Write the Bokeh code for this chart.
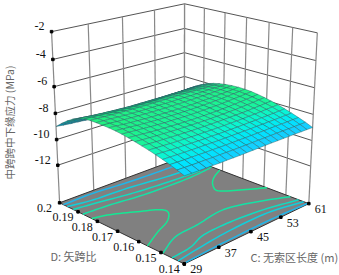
import numpy as np
from bokeh.plotting import figure
from bokeh.models import Range1d
from bokeh.core.properties import value
from bokeh.embed import file_html
from bokeh.resources import INLINE

c_ticks = [29, 37, 45, 53, 61]
d_ticks = [0.14, 0.15, 0.16, 0.17, 0.18, 0.19, 0.2]
d_labels = ["0.14", "0.15", "0.16", "0.17", "0.18", "0.19", "0.2"]
z_ticks = [-2, -4, -6, -8, -10, -12]
z_floor = -15
y_title = "中跨跨中下缘应力 (MPa)"
c_title = "C: 无索区长度 (m)"
d_title = "D: 矢跨比"

# rows: D from 0.20 down to 0.14; columns: C from 29 to 61
z_grid = [
[-9.00,-9.06,-9.11,-9.15,-9.19,-9.23,-9.25,-9.27,-9.29,-9.30,-9.30,-9.30,-9.30,-9.29,-9.28,-9.28,-9.26,-9.25,-9.24,-9.22,-9.20],
[-8.60,-8.68,-8.75,-8.81,-8.87,-8.92,-8.95,-8.98,-9.00,-9.02,-9.02,-9.02,-9.01,-9.00,-8.99,-8.98,-8.96,-8.94,-8.91,-8.88,-8.85],
[-8.25,-8.33,-8.40,-8.47,-8.52,-8.56,-8.61,-8.63,-8.65,-8.66,-8.67,-8.67,-8.66,-8.66,-8.65,-8.63,-8.62,-8.60,-8.57,-8.55,-8.52],
[-7.95,-8.02,-8.08,-8.13,-8.18,-8.22,-8.25,-8.28,-8.30,-8.30,-8.31,-8.31,-8.31,-8.30,-8.30,-8.29,-8.29,-8.28,-8.27,-8.26,-8.25],
[-7.72,-7.77,-7.82,-7.86,-7.89,-7.92,-7.94,-7.97,-7.98,-7.98,-7.99,-7.99,-8.00,-8.00,-7.99,-8.00,-8.00,-8.01,-8.01,-8.01,-8.02],
[-7.60,-7.63,-7.67,-7.70,-7.73,-7.75,-7.77,-7.78,-7.79,-7.79,-7.80,-7.80,-7.80,-7.80,-7.81,-7.81,-7.82,-7.83,-7.84,-7.84,-7.86],
[-7.54,-7.56,-7.59,-7.61,-7.63,-7.64,-7.66,-7.67,-7.68,-7.67,-7.68,-7.68,-7.68,-7.68,-7.69,-7.69,-7.70,-7.71,-7.72,-7.72,-7.74],
[-7.53,-7.56,-7.58,-7.61,-7.64,-7.65,-7.67,-7.68,-7.68,-7.68,-7.69,-7.69,-7.68,-7.69,-7.69,-7.69,-7.68,-7.67,-7.67,-7.66,-7.66],
[-7.54,-7.57,-7.61,-7.63,-7.66,-7.68,-7.70,-7.71,-7.72,-7.73,-7.73,-7.73,-7.73,-7.72,-7.71,-7.70,-7.69,-7.67,-7.65,-7.63,-7.61],
[-7.56,-7.60,-7.65,-7.68,-7.71,-7.74,-7.76,-7.77,-7.79,-7.80,-7.80,-7.80,-7.80,-7.78,-7.76,-7.75,-7.72,-7.69,-7.67,-7.63,-7.59],
[-7.60,-7.64,-7.68,-7.72,-7.75,-7.77,-7.80,-7.81,-7.82,-7.83,-7.83,-7.83,-7.82,-7.81,-7.80,-7.77,-7.75,-7.72,-7.68,-7.64,-7.60],
[-7.66,-7.70,-7.74,-7.77,-7.81,-7.83,-7.86,-7.86,-7.88,-7.89,-7.89,-7.89,-7.88,-7.86,-7.85,-7.83,-7.80,-7.76,-7.73,-7.69,-7.64],
[-7.74,-7.78,-7.82,-7.86,-7.89,-7.91,-7.93,-7.95,-7.96,-7.97,-7.97,-7.97,-7.96,-7.95,-7.93,-7.91,-7.88,-7.84,-7.80,-7.76,-7.71],
[-7.84,-7.88,-7.91,-7.94,-7.96,-7.98,-8.00,-8.01,-8.02,-8.03,-8.03,-8.03,-8.02,-8.01,-7.99,-7.98,-7.95,-7.92,-7.89,-7.85,-7.81],
[-7.95,-7.98,-8.01,-8.03,-8.05,-8.07,-8.08,-8.10,-8.10,-8.11,-8.11,-8.11,-8.10,-8.09,-8.08,-8.07,-8.05,-8.02,-8.00,-7.96,-7.93],
[-8.06,-8.09,-8.11,-8.14,-8.16,-8.17,-8.19,-8.20,-8.20,-8.21,-8.21,-8.21,-8.20,-8.20,-8.19,-8.17,-8.16,-8.14,-8.11,-8.09,-8.06],
[-8.19,-8.21,-8.24,-8.26,-8.27,-8.29,-8.30,-8.31,-8.31,-8.32,-8.32,-8.32,-8.32,-8.31,-8.30,-8.30,-8.28,-8.27,-8.26,-8.24,-8.22],
[-8.33,-8.35,-8.37,-8.39,-8.40,-8.41,-8.42,-8.43,-8.44,-8.44,-8.44,-8.44,-8.44,-8.44,-8.43,-8.43,-8.42,-8.42,-8.41,-8.40,-8.39],
[-8.49,-8.51,-8.53,-8.54,-8.55,-8.57,-8.57,-8.58,-8.59,-8.59,-8.59,-8.59,-8.59,-8.59,-8.59,-8.58,-8.58,-8.58,-8.58,-8.57,-8.57],
[-8.66,-8.68,-8.70,-8.71,-8.72,-8.74,-8.74,-8.75,-8.76,-8.76,-8.76,-8.76,-8.76,-8.76,-8.76,-8.76,-8.76,-8.77,-8.77,-8.77,-8.77],
[-8.85,-8.87,-8.89,-8.90,-8.91,-8.93,-8.93,-8.94,-8.95,-8.95,-8.95,-8.95,-8.95,-8.95,-8.96,-8.96,-8.97,-8.97,-8.98,-8.99,-9.00],
]

# floor contours, read as (C, D)
contour_back1 = [(29,.1979),(36.2,.1981),(44,.1967),(53.1,.1960),(58,.1958)]
contour_back2 = [(29,.1958),(34.2,.1938),(42.2,.1929),(52.1,.1904),(58,.1900)]
contour_back3 = [(29,.1926),(34.6,.1909),(41.5,.1884),(50.9,.1866),(58,.1860)]
contour_back4 = [(29,.1875),(35,.1867),(42.2,.1848),(52.2,.1840),(58.6,.1848),(61,.1856)]
lobe_left = [(29,.1829),(32.3,.1809),(36.5,.1763),(40,.1720),(40.2,.1685),(37.5,.1639),(33.7,.1607),(29,.1560)]
lobe_right = [(61,.1814),(57.2,.1778),(54.6,.1736),(53.4,.1689),(56.6,.1640),(61,.1586)]
contour_front1 = [(29,.1492),(34.5,.1543),(40.4,.1554),(48.1,.1572),(55,.1533),(61,.1480)]
contour_front2 = [(29,.1452),(33.7,.1461),(38.4,.1490),(45.4,.1493),(53.2,.1477),(61,.1444)]
contour_front3 = [(29,.1426),(35.8,.1442),(43.1,.1453),(52.8,.1452),(61,.1422)]
contour_front4 = [(29,.1403),(36.2,.1409),(45,.1412),(53,.1411),(61,.1404)]

# camera: corners of the box (u along C, v along D, w along z) and where they land on the page
box = [(0,0,0),(1,0,0),(0,1,0),(1,1,0),(0,0,1),(1,0,1),(0,1,1),(1,1,1)]
page = [(184,263),(308,204),(59,203),(184,155),(184,68),(317,33),(51,32),(184,3)]
rows, rhs = [], []
for (a, b, c), (px, py) in zip(box, page):
    rows.append([a,b,c,1,0,0,0,0,-px*a,-px*b,-px*c]); rhs.append(px)
    rows.append([0,0,0,0,a,b,c,1,-py*a,-py*b,-py*c]); rhs.append(py)
m = np.linalg.lstsq(np.array(rows, float), np.array(rhs, float), rcond=None)[0]

def proj(C, D, Z):
    u = (np.asarray(C, float) - 29) / 32
    v = (np.asarray(D, float) - 0.14) / 0.06
    w = (np.asarray(Z, float) - z_floor) / (z_ticks[0] - z_floor)
    d = m[8]*u + m[9]*v + m[10]*w + 1
    return (m[0]*u+m[1]*v+m[2]*w+m[3]) / d, (m[4]*u+m[5]*v+m[6]*w+m[7]) / d

def rounded(xp, yp, n=8):
    # Catmull-Rom through the read points, for the pen stroke only
    P = np.column_stack([xp, yp])
    P = np.vstack([2*P[0]-P[1], P, 2*P[-1]-P[-2]])
    out = []
    for k in range(1, len(P)-2):
        for s in np.linspace(0, 1, n, endpoint=False):
            out.append(0.5*((2*P[k]) + (P[k+1]-P[k-1])*s + (2*P[k-1]-5*P[k]+4*P[k+1]-P[k+2])*s*s
                            + (3*P[k]-P[k-1]-3*P[k+1]+P[k+2])*s**3))
    out.append(P[-2])
    out = np.array(out)
    return out[:,0], out[:,1]

p = figure(width=339, height=275, x_range=Range1d(0, 339), y_range=Range1d(275, 0),
           x_axis_type=None, y_axis_type=None, toolbar_location=None, output_backend="svg",
           min_border=0, outline_line_color=None, background_fill_color="white",
           styles={"position": "absolute", "left": "0px", "top": "0px"})
p.grid.visible = False

cmin, cmax = c_ticks[0], c_ticks[-1]
dmin, dmax = d_ticks[0], d_ticks[-1]
ztop, zbot = z_ticks[0], z_floor

def seg(C, D, Z, color, width):
    x, y = proj(C, D, Z)
    p.line(x, y, line_color=color, line_width=width)

# walls
for z in z_ticks:
    seg([cmin, cmax], [dmax, dmax], [z, z], "#555555", 1)
    seg([cmax, cmax], [dmax, dmin], [z, z], "#555555", 1)
for c in c_ticks:
    seg([c, c], [dmax, dmax], [zbot, ztop], "#888888", 1.2)
for d in d_ticks:
    seg([cmax, cmax], [d, d], [zbot, ztop], "#888888", 1.2)

# floor
fx, fy = proj([cmin, cmax, cmax, cmin], [dmin, dmin, dmax, dmax], [zbot]*4)
p.patch(fx, fy, fill_color="#808080", line_color="#333333", line_width=1)

for pts, col in [(contour_back1, "#1fb6ea"), (contour_back2, "#10cfdc"), (contour_back3, "#10dcc0"),
                 (contour_back4, "#14e2a6"), (lobe_left, "#14e894"), (lobe_right, "#14e894"),
                 (contour_front1, "#14e2a6"), (contour_front2, "#10dcc0"),
                 (contour_front3, "#10cfdc"), (contour_front4, "#1fb6ea")]:
    cc = [a for a, _ in pts]; dd = [b for _, b in pts]
    x, y = proj(cc, dd, [zbot]*len(pts))
    x, y = rounded(x, y)
    p.line(x, y, line_color=col, line_width=1.5, line_join="round")

# ticks
tx, ty = proj([cmin]*len(z_ticks), [dmax]*len(z_ticks), z_ticks)
p.scatter(tx, ty, marker="square", size=2.5, color="black")
tx, ty = proj([cmin]*len(d_ticks), d_ticks, [zbot]*len(d_ticks))
p.scatter(tx, ty, marker="square", size=2.5, color="black")
tx, ty = proj(c_ticks, [dmin]*len(c_ticks), [zbot]*len(c_ticks))
p.scatter(tx, ty, marker="square", size=2.5, color="black")

# surface
Zg = np.array(z_grid)
nr, nc = Zg.shape
Cg = np.linspace(cmin, cmax, nc)
Dg = np.linspace(dmax, dmin, nr)
CC, DD = np.meshgrid(Cg, Dg)
X, Y = proj(CC, DD, Zg)
stops_z = [-9.3, -9.0, -8.6, -8.3, -8.0, -7.5]
stops_r = [40, 30, 0, 10, 25, 35]
stops_g = [180, 198, 230, 245, 245, 240]
stops_b = [255, 255, 255, 215, 160, 125]
xs, ys, cols, order = [], [], [], []
for j in range(nr-1):
    for i in range(nc-1):
        q = [(j,i),(j,i+1),(j+1,i+1),(j+1,i)]
        xs.append([X[a] for a in q]); ys.append([Y[a] for a in q])
        zm = np.mean([Zg[a] for a in q])
        slope = ((Zg[j+1,i]+Zg[j+1,i+1]) - (Zg[j,i]+Zg[j,i+1])) / 2 * (nr-1)
        f = float(np.clip(1 - 0.045*max(slope, 0), 0.5, 1))
        r = np.interp(zm, stops_z, stops_r)*f
        g = np.interp(zm, stops_z, stops_g)*f
        b = np.interp(zm, stops_z, stops_b)*f
        cols.append("#%02x%02x%02x" % (int(r), int(g), int(b)))
        order.append(j - i)
idx = sorted(range(len(order)), key=lambda k: order[k])
p.patches([xs[k] for k in idx], [ys[k] for k in idx], fill_color=[cols[k] for k in idx],
          line_color="#2a6064", line_width=0.45)

serif = value("Liberation Serif")
cjk = value("Noto Sans CJK SC")
tx, ty = proj([cmin]*len(z_ticks), [dmax]*len(z_ticks), z_ticks)
p.text(tx, ty, text=[str(z) for z in z_ticks], text_font=serif, text_font_size="12px", text_color="#111111",
       text_align="right", text_baseline="middle", x_offset=-7, y_offset=-5.5)
tx, ty = proj([cmin]*len(d_ticks), d_ticks, [zbot]*len(d_ticks))
p.text(tx, ty, text=d_labels, text_font=serif, text_font_size="12px", text_color="#111111",
       text_align="center", text_baseline="middle", x_offset=-15, y_offset=5.5)
tx, ty = proj(c_ticks, [dmin]*len(c_ticks), [zbot]*len(c_ticks))
p.text(tx, ty, text=[str(c) for c in c_ticks], text_font=serif, text_font_size="12px", text_color="#111111",
       text_align="center", text_baseline="middle", x_offset=12, y_offset=5.5)
p.text([9], [122], text=[y_title], text_font=cjk, text_font_size="10.5px", text_color="#666666",
       text_align="center", text_baseline="middle", angle=[np.pi/2])
p.text([50], [255], text=[d_title], text_font=cjk, text_font_size="11px", text_color="#666666",
       text_align="left", text_baseline="middle")
p.text([250], [256], text=[c_title], text_font=cjk, text_font_size="11px", text_color="#666666",
       text_align="left", text_baseline="middle")

open("out.html", "w").write(file_html(p, INLINE))
